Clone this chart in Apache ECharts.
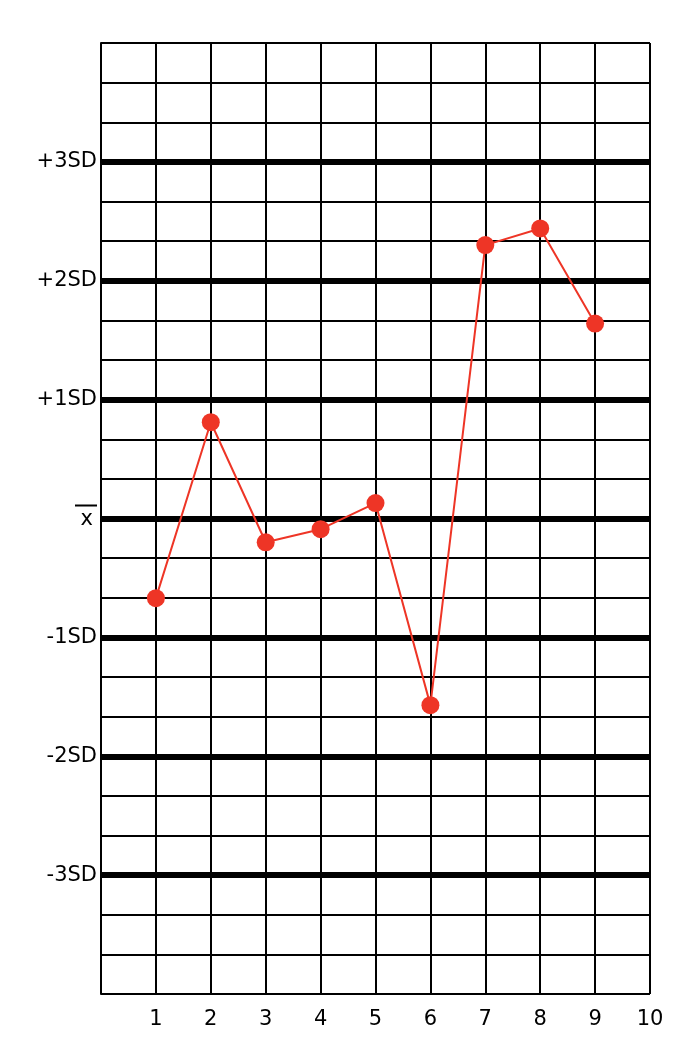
<!DOCTYPE html>
<html lang="en">
<head>
        <meta charset="UTF-8">
        <title>Levey-Jennings chart</title>
        <style>
                html, body {
                        margin: 0;
                        padding: 0;
                        background: #ffffff;
                }
                #chart {
                        width: 696px;
                        height: 1060px;
                }
        </style>
</head>
<body>
<div id="chart"></div>

<script src="https://cdn.jsdelivr.net/npm/echarts@6/dist/echarts.min.js"></script>
<script>

        // runs along the x axis and their value in SD from the mean
        var runs = [1, 2, 3, 4, 5, 6, 7, 8, 9];
        var sdValues = [-0.67, 0.81, -0.2, -0.09, 0.13, -1.57, 2.3, 2.44, 1.64];

        // tick labels, index = SD + 4
        var sdLabels = ['', '-3SD', '-2SD', '-1SD', 'mean', '+1SD', '+2SD', '+3SD', ''];
        var runLabels = ['', '1', '2', '3', '4', '5', '6', '7', '8', '9', '10'];

        var myChart = echarts.init(document.getElementById('chart'));

        var points = [];
        for (var i = 0; i < runs.length; i++) {
                points.push([runs[i], sdValues[i]]);
        }

        var option = {
                animation: false,
                backgroundColor: '#ffffff',
                textStyle: {
                        fontFamily: 'DejaVu Sans'
                },
                grid: {
                        left: 101,
                        right: 46,
                        top: 43,
                        bottom: 66
                },
                xAxis: {
                        type: 'value',
                        min: 0,
                        max: 10,
                        interval: 1,
                        axisLine: {
                                show: true,
                                lineStyle: { color: '#000', width: 2 }
                        },
                        axisTick: { show: false },
                        axisLabel: {
                                color: '#000',
                                fontSize: 21,
                                margin: 15,
                                formatter: function (v) {
                                        return runLabels[Math.round(v)] || '';
                                }
                        },
                        splitLine: {
                                show: true,
                                lineStyle: { color: '#000', width: 2 }
                        }
                },
                yAxis: [{
                        // SD axis: labels and the thick lines
                        type: 'value',
                        min: -4,
                        max: 4,
                        interval: 1,
                        axisLine: {
                                show: true,
                                lineStyle: { color: '#000', width: 2 }
                        },
                        axisTick: { show: false },
                        axisLabel: {
                                color: '#000',
                                fontSize: 21,
                                margin: 4,
                                formatter: function (v) {
                                        var idx = Math.round(v) + 4;
                                        if (sdLabels[idx] == 'mean') {
                                                return '{bar|}\n{x|x}';
                                        }
                                        return sdLabels[idx] || '';
                                },
                                rich: {
                                        bar: {
                                                width: 22,
                                                height: 2,
                                                backgroundColor: '#000',
                                                align: 'right'
                                        },
                                        x: {
                                                fontSize: 21,
                                                color: '#000',
                                                padding: [0, 4, 0, 0],
                                                lineHeight: 26,
                                                align: 'right'
                                        }
                                }
                        },
                        splitLine: {
                                show: true,
                                showMinLine: false,
                                showMaxLine: false,
                                lineStyle: { color: '#000', width: 6 }
                        }
                }, {
                        // thin grid every third of an SD
                        type: 'value',
                        min: -12,
                        max: 12,
                        interval: 1,
                        position: 'left',
                        axisLine: { show: false },
                        axisTick: { show: false },
                        axisLabel: { show: false },
                        splitLine: {
                                show: true,
                                lineStyle: { color: '#000', width: 2 }
                        }
                }],
                series: [{
                        name: 'control',
                        type: 'line',
                        yAxisIndex: 0,
                        data: points,
                        symbol: 'circle',
                        symbolSize: 18,
                        z: 10,
                        lineStyle: {
                                color: '#ee3526',
                                width: 2
                        },
                        itemStyle: {
                                color: '#ee3526',
                                borderWidth: 0
                        }
                }]
        };

        myChart.setOption(option);

</script>
</body>
</html>
